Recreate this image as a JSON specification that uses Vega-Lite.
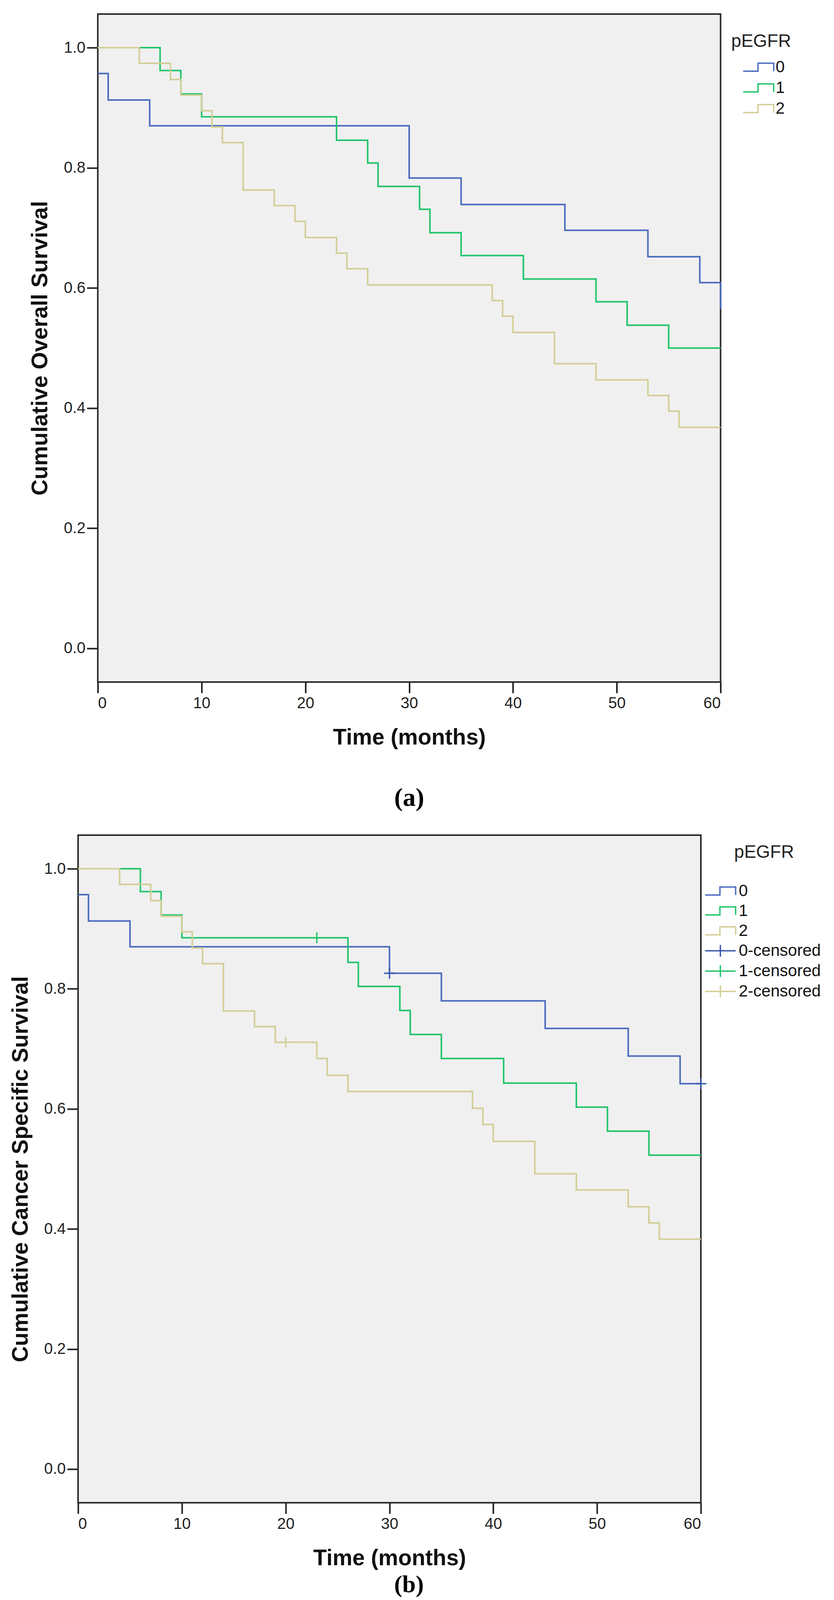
{
  "$schema": "https://vega.github.io/schema/vega-lite/v6.json",
  "usermeta": {"embedOptions": {"actions": false}},
  "background": "white",
  "padding": {"left": 22, "top": 34, "right": 0, "bottom": 0},
  "spacing": 58,
  "center": true,
  "resolve": {
    "scale": {"color": "independent", "x": "independent", "y": "independent"},
    "legend": {"color": "independent"}
  },
  "datasets": {
    "os": [
      {"group": "0", "t": 0, "s": 0.957}, {"group": "0", "t": 1, "s": 0.913}, {"group": "0", "t": 5, "s": 0.870},
      {"group": "0", "t": 30, "s": 0.783}, {"group": "0", "t": 35, "s": 0.739}, {"group": "0", "t": 45, "s": 0.696},
      {"group": "0", "t": 53, "s": 0.652}, {"group": "0", "t": 58, "s": 0.609}, {"group": "0", "t": 60, "s": 0.565},
      {"group": "1", "t": 0, "s": 1.0}, {"group": "1", "t": 6, "s": 0.962}, {"group": "1", "t": 8, "s": 0.923},
      {"group": "1", "t": 10, "s": 0.885}, {"group": "1", "t": 23, "s": 0.846}, {"group": "1", "t": 26, "s": 0.808},
      {"group": "1", "t": 27, "s": 0.769}, {"group": "1", "t": 31, "s": 0.731}, {"group": "1", "t": 32, "s": 0.692},
      {"group": "1", "t": 35, "s": 0.654}, {"group": "1", "t": 41, "s": 0.615}, {"group": "1", "t": 48, "s": 0.577},
      {"group": "1", "t": 51, "s": 0.538}, {"group": "1", "t": 55, "s": 0.5}, {"group": "1", "t": 60, "s": 0.5},
      {"group": "2", "t": 0, "s": 1.0}, {"group": "2", "t": 4, "s": 0.974}, {"group": "2", "t": 7, "s": 0.947},
      {"group": "2", "t": 8, "s": 0.921}, {"group": "2", "t": 10, "s": 0.895}, {"group": "2", "t": 11, "s": 0.868},
      {"group": "2", "t": 12, "s": 0.842}, {"group": "2", "t": 14, "s": 0.763}, {"group": "2", "t": 17, "s": 0.737},
      {"group": "2", "t": 19, "s": 0.711}, {"group": "2", "t": 20, "s": 0.684}, {"group": "2", "t": 23, "s": 0.658},
      {"group": "2", "t": 24, "s": 0.632}, {"group": "2", "t": 26, "s": 0.605}, {"group": "2", "t": 38, "s": 0.579},
      {"group": "2", "t": 39, "s": 0.553}, {"group": "2", "t": 40, "s": 0.526}, {"group": "2", "t": 44, "s": 0.474},
      {"group": "2", "t": 48, "s": 0.447}, {"group": "2", "t": 53, "s": 0.421}, {"group": "2", "t": 55, "s": 0.395},
      {"group": "2", "t": 56, "s": 0.368}, {"group": "2", "t": 60, "s": 0.368}
    ],
    "css": [
      {"group": "0", "t": 0, "s": 0.957}, {"group": "0", "t": 1, "s": 0.913}, {"group": "0", "t": 5, "s": 0.870},
      {"group": "0", "t": 30, "s": 0.826}, {"group": "0", "t": 35, "s": 0.780}, {"group": "0", "t": 45, "s": 0.734},
      {"group": "0", "t": 53, "s": 0.688}, {"group": "0", "t": 58, "s": 0.642}, {"group": "0", "t": 60, "s": 0.642},
      {"group": "1", "t": 0, "s": 1.0}, {"group": "1", "t": 6, "s": 0.962}, {"group": "1", "t": 8, "s": 0.923},
      {"group": "1", "t": 10, "s": 0.885}, {"group": "1", "t": 26, "s": 0.844}, {"group": "1", "t": 27, "s": 0.804},
      {"group": "1", "t": 31, "s": 0.764}, {"group": "1", "t": 32, "s": 0.724}, {"group": "1", "t": 35, "s": 0.684},
      {"group": "1", "t": 41, "s": 0.643}, {"group": "1", "t": 48, "s": 0.603}, {"group": "1", "t": 51, "s": 0.563},
      {"group": "1", "t": 55, "s": 0.523}, {"group": "1", "t": 60, "s": 0.523},
      {"group": "2", "t": 0, "s": 1.0}, {"group": "2", "t": 4, "s": 0.974}, {"group": "2", "t": 7, "s": 0.947},
      {"group": "2", "t": 8, "s": 0.921}, {"group": "2", "t": 10, "s": 0.895}, {"group": "2", "t": 11, "s": 0.868},
      {"group": "2", "t": 12, "s": 0.842}, {"group": "2", "t": 14, "s": 0.763}, {"group": "2", "t": 17, "s": 0.737},
      {"group": "2", "t": 19, "s": 0.711}, {"group": "2", "t": 23, "s": 0.684}, {"group": "2", "t": 24, "s": 0.656},
      {"group": "2", "t": 26, "s": 0.629}, {"group": "2", "t": 38, "s": 0.601}, {"group": "2", "t": 39, "s": 0.574},
      {"group": "2", "t": 40, "s": 0.546}, {"group": "2", "t": 44, "s": 0.492}, {"group": "2", "t": 48, "s": 0.465},
      {"group": "2", "t": 53, "s": 0.437}, {"group": "2", "t": 55, "s": 0.410}, {"group": "2", "t": 56, "s": 0.383},
      {"group": "2", "t": 60, "s": 0.383}
    ],
    "css_censored": [
      {"group": "0-censored", "t": 30, "s": 0.826},
      {"group": "0-censored", "t": 60, "s": 0.642},
      {"group": "1-censored", "t": 23, "s": 0.885},
      {"group": "2-censored", "t": 20, "s": 0.711}
    ]
  },
  "vconcat": [
    {
      "width": 1595,
      "height": 1710,
      "title": {"text": "(a)", "orient": "bottom", "anchor": "middle", "frame": "group", "offset": 95},
      "data": {"name": "os"},
      "mark": {"type": "line", "interpolate": "step-after", "strokeWidth": 4},
      "encoding": {
        "x": {
          "field": "t", "type": "quantitative",
          "scale": {"domain": [0, 60], "nice": false},
          "axis": {"values": [0, 10, 20, 30, 40, 50, 60], "title": "Time (months)"}
        },
        "y": {
          "field": "s", "type": "quantitative",
          "scale": {"domain": [-0.056, 1.056], "nice": false, "zero": false},
          "axis": {"values": [0, 0.2, 0.4, 0.6, 0.8, 1.0], "format": ".1f", "title": "Cumulative Overall Survival"}
        },
        "color": {
          "field": "group", "type": "nominal",
          "scale": {"domain": ["0", "1", "2"], "range": ["#4b6bbf", "#22c46c", "#d3ce97"]},
          "legend": {
            "title": "pEGFR",
            "offset": -29,
            "padding": 48,
            "titlePadding": 17,
            "symbolOffset": 28,
            "labelOffset": 19,
            "encode": {
              "symbols": {
                "update": {
                  "shape": {"value": "M-1.7,0.45H-0.05V-0.45H1.7V0.45"},
                  "fill": {"value": "transparent"},
                  "strokeWidth": {"value": 3.5},
                  "size": {"value": 2116},
                  "opacity": {"value": 1}
                }
              }
            }
          }
        }
      }
    },
    {
      "width": 1595,
      "height": 1709,
      "title": {"text": "(b)", "orient": "bottom", "anchor": "middle", "frame": "group", "offset": 10, "dx": 50, "fontSize": 62},
      "layer": [
        {
          "data": {"name": "css"},
          "mark": {"type": "line", "interpolate": "step-after", "strokeWidth": 4},
          "encoding": {
            "x": {
              "field": "t", "type": "quantitative",
              "scale": {"domain": [0, 60], "nice": false},
              "axis": {"values": [0, 10, 20, 30, 40, 50, 60], "title": "Time (months)"}
            },
            "y": {
              "field": "s", "type": "quantitative",
              "scale": {"domain": [-0.056, 1.056], "nice": false, "zero": false},
              "axis": {"values": [0, 0.2, 0.4, 0.6, 0.8, 1.0], "format": ".1f", "title": "Cumulative Cancer Specific Survival"}
            },
            "color": {
              "field": "group", "type": "nominal",
              "scale": {
                "domain": ["0", "1", "2", "0-censored", "1-censored", "2-censored"],
                "range": ["#4b6bbf", "#22c46c", "#d3ce97", "#3a5ab0", "#22c46c", "#d3ce97"]
              },
              "legend": {
                "title": "pEGFR",
                "offset": -13,
                "padding": 22,
                "titlePadding": 50,
                "rowPadding": 5,
                "symbolOffset": 8,
                "labelOffset": 22,
                "labelLimit": 400,
                "encode": {
                  "symbols": {
                    "update": {
                      "shape": {"signal": "indexof(datum.value, 'censored') >= 0 ? 'M-1.7,0H1.7M0,-0.65V0.65' : 'M-1.7,0.45H-0.05V-0.45H1.7V0.45'"},
                      "fill": {"value": "transparent"},
                      "strokeWidth": {"value": 3.5},
                      "size": {"value": 2116},
                      "opacity": {"value": 1}
                    }
                  }
                }
              }
            }
          }
        },
        {
          "data": {"name": "css_censored"},
          "mark": {"type": "point", "shape": "M-1,0H1M0,-1V1", "filled": false, "size": 784, "strokeWidth": 3.5, "opacity": 1},
          "encoding": {
            "x": {"field": "t", "type": "quantitative"},
            "y": {"field": "s", "type": "quantitative"},
            "color": {"field": "group", "type": "nominal"}
          }
        }
      ]
    }
  ],
  "config": {
    "font": "Liberation Sans",
    "view": {"fill": "#f0f0f0", "stroke": "#2a2a2a", "strokeWidth": 4},
    "title": {"font": "Liberation Serif", "fontSize": 66, "fontWeight": "bold", "color": "#000000"},
    "axis": {
      "domain": false,
      "grid": false,
      "ticks": true,
      "tickColor": "#222222",
      "tickWidth": 4,
      "tickSize": 28,
      "labelFont": "Liberation Sans",
      "labelFontSize": 40,
      "labelColor": "#222222",
      "titleFont": "Liberation Sans",
      "titleFontSize": 57,
      "titleFontWeight": "bold",
      "titleColor": "#111111"
    },
    "axisX": {"labelPadding": 6, "titlePadding": 40},
    "axisY": {"labelPadding": 4, "titlePadding": 30},
    "legend": {
      "titleFont": "Liberation Sans",
      "titleFontSize": 46,
      "titleFontWeight": "normal",
      "titleColor": "#222222",
      "titleAnchor": "middle",
      "titlePadding": 33,
      "labelFont": "Liberation Sans",
      "labelFontSize": 42,
      "labelColor": "#111111",
      "labelLimit": 400,
      "labelOffset": 22,
      "rowPadding": 7,
      "padding": 28,
      "symbolSize": 2116,
      "symbolStrokeWidth": 3.5
    }
  }
}
